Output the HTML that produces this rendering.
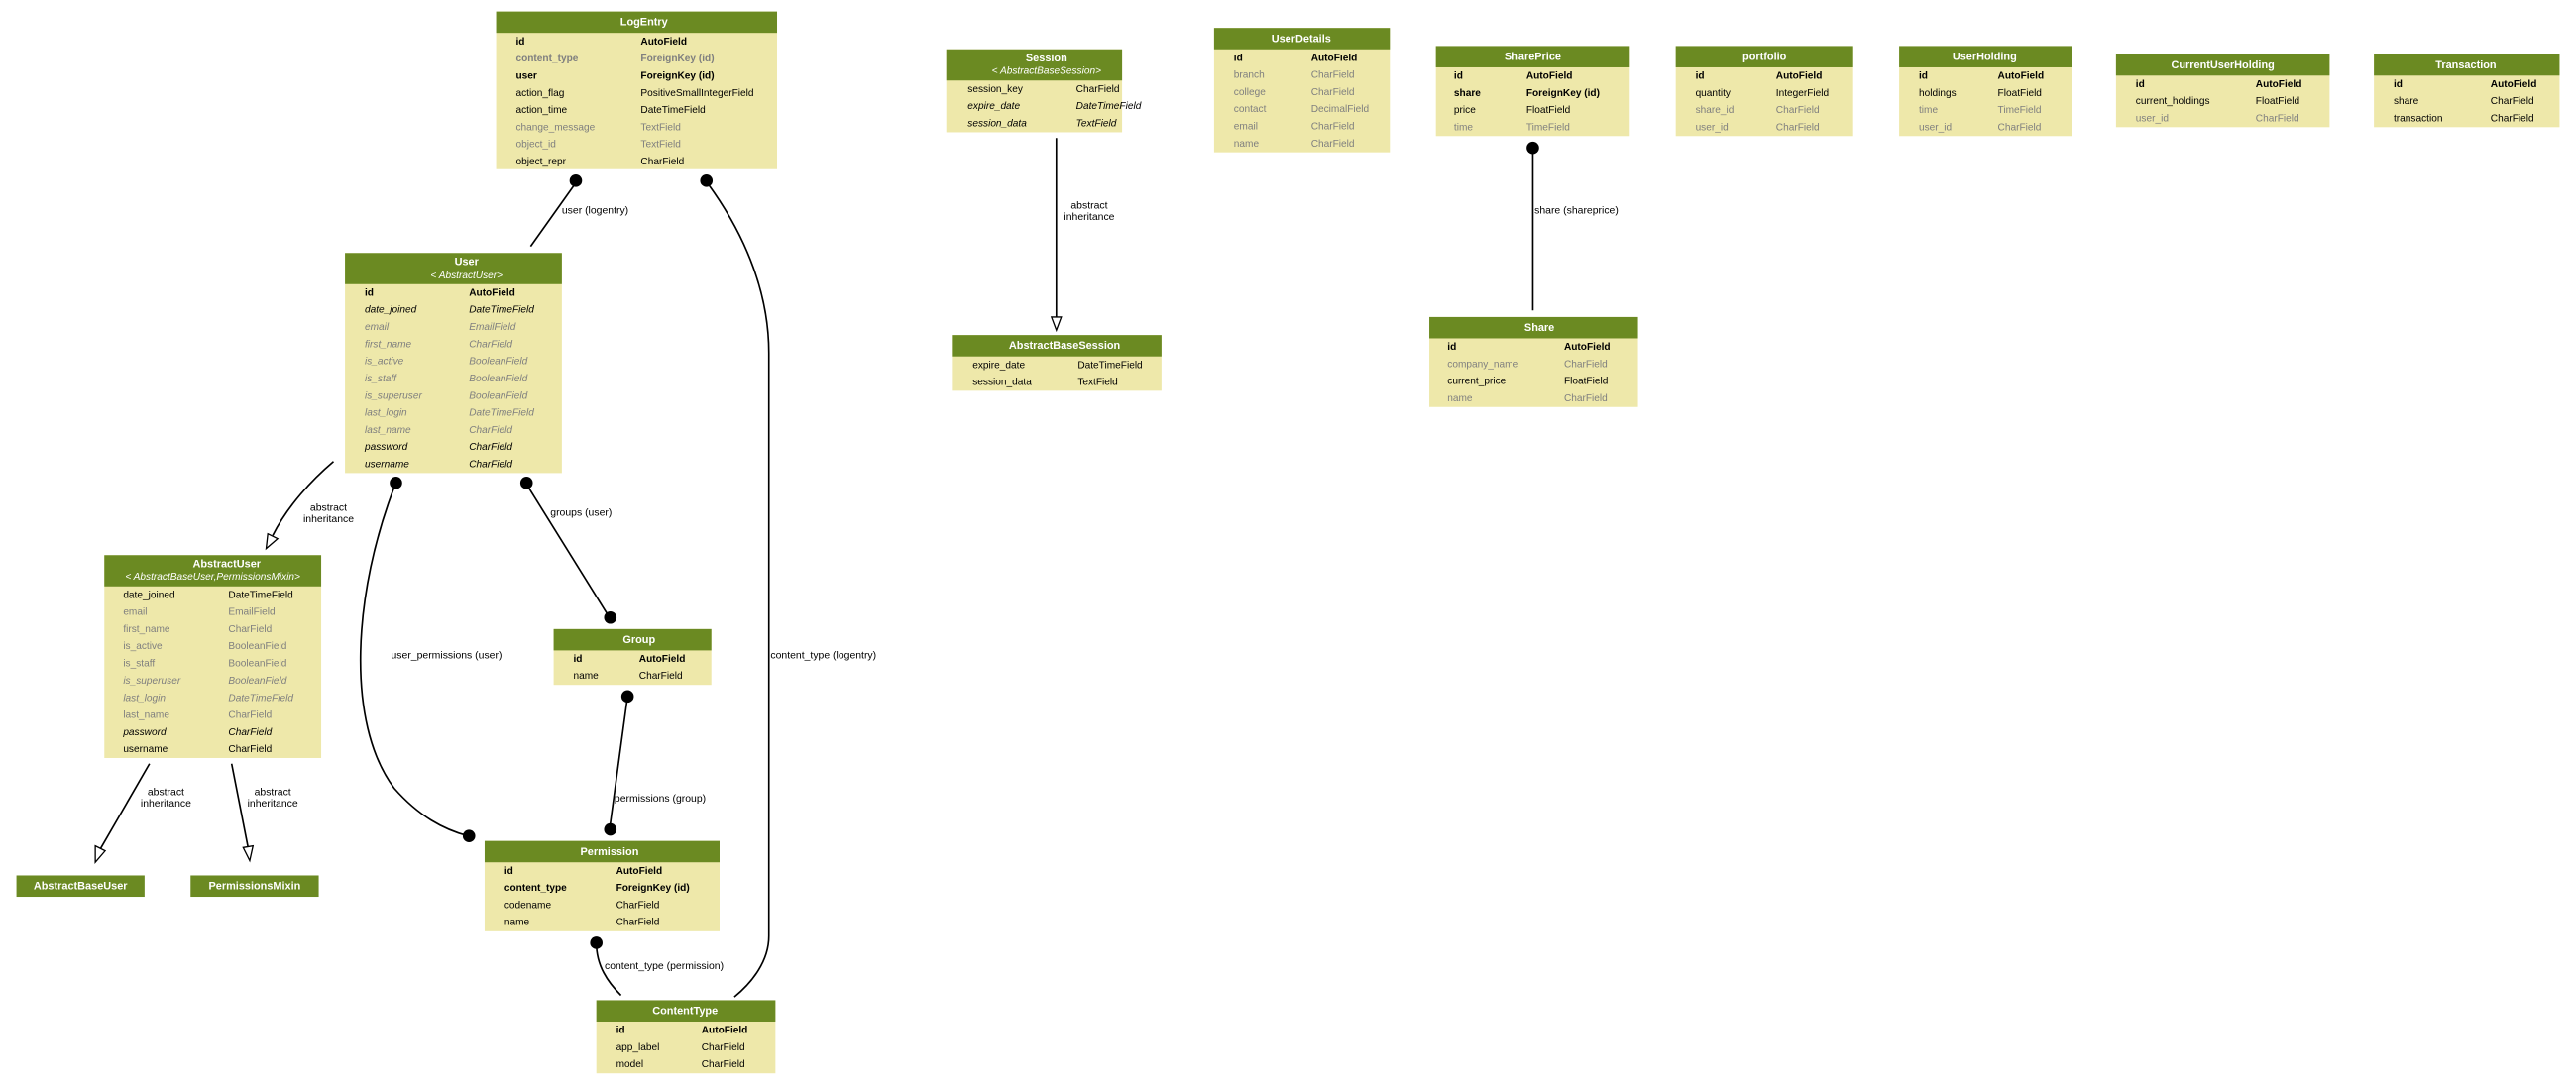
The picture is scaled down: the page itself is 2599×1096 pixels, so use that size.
<!DOCTYPE html>
<html><head><meta charset="utf-8"><style>
html,body{margin:0;padding:0;background:#fff;}
svg{display:block}
text{font-family:"Liberation Sans",sans-serif;font-size:6.1px;fill:#000}
.h{fill:#fff;font-weight:bold;font-size:6.6px}
.s{fill:#fff;font-style:italic;font-size:6.1px}
.b{font-weight:bold}
.g{fill:#7f7f7f}
.i{font-style:italic}
.gi{fill:#7f7f7f;font-style:italic}
.gb{fill:#7f7f7f;font-weight:bold}
.l{font-size:6.3px}
.hd{fill:#6b8a22}
.bd{fill:#eee8aa}
.e{fill:none;stroke:#000;stroke-width:1}
</style></head><body>
<svg width="2599" height="1096" viewBox="0 0 1568 661.2" xmlns="http://www.w3.org/2000/svg">
<!-- LogEntry -->
<rect class="bd" x="302" y="7" width="171" height="96"/><rect class="hd" x="302" y="7" width="171" height="13"/>
<text class="h" x="392" y="15.5" text-anchor="middle">LogEntry</text>
<text class="b" x="314" y="27">id</text><text class="b" x="390" y="27">AutoField</text>
<text class="gb" x="314" y="37.5">content_type</text><text class="gb" x="390" y="37.5">ForeignKey (id)</text>
<text class="b" x="314" y="48">user</text><text class="b" x="390" y="48">ForeignKey (id)</text>
<text x="314" y="58.4">action_flag</text><text x="390" y="58.4">PositiveSmallIntegerField</text>
<text x="314" y="68.8">action_time</text><text x="390" y="68.8">DateTimeField</text>
<text class="g" x="314" y="79.3">change_message</text><text class="g" x="390" y="79.3">TextField</text>
<text class="g" x="314" y="89.7">object_id</text><text class="g" x="390" y="89.7">TextField</text>
<text x="314" y="100.1">object_repr</text><text x="390" y="100.1">CharField</text>

<!-- User -->
<rect class="bd" x="210" y="154" width="132" height="134"/><rect class="hd" x="210" y="154" width="132" height="19"/>
<text class="h" x="284" y="161.5" text-anchor="middle">User</text>
<text class="s" x="284" y="169.5" text-anchor="middle">&lt; AbstractUser&gt;</text>
<text class="b" x="222" y="180">id</text><text class="b" x="285.5" y="180">AutoField</text>
<text class="i" x="222" y="190.4">date_joined</text><text class="i" x="285.5" y="190.4">DateTimeField</text>
<text class="gi" x="222" y="200.9">email</text><text class="gi" x="285.5" y="200.9">EmailField</text>
<text class="gi" x="222" y="211.3">first_name</text><text class="gi" x="285.5" y="211.3">CharField</text>
<text class="gi" x="222" y="221.8">is_active</text><text class="gi" x="285.5" y="221.8">BooleanField</text>
<text class="gi" x="222" y="232.2">is_staff</text><text class="gi" x="285.5" y="232.2">BooleanField</text>
<text class="gi" x="222" y="242.7">is_superuser</text><text class="gi" x="285.5" y="242.7">BooleanField</text>
<text class="gi" x="222" y="253.1">last_login</text><text class="gi" x="285.5" y="253.1">DateTimeField</text>
<text class="gi" x="222" y="263.6">last_name</text><text class="gi" x="285.5" y="263.6">CharField</text>
<text class="i" x="222" y="274">password</text><text class="i" x="285.5" y="274">CharField</text>
<text class="i" x="222" y="284.5">username</text><text class="i" x="285.5" y="284.5">CharField</text>

<!-- AbstractUser -->
<rect class="bd" x="63.5" y="338" width="132" height="123.5"/><rect class="hd" x="63.5" y="338" width="132" height="19"/>
<text class="h" x="138" y="345.5" text-anchor="middle">AbstractUser</text>
<text class="s" x="129.5" y="353" text-anchor="middle">&lt; AbstractBaseUser,PermissionsMixin&gt;</text>
<text x="75" y="364">date_joined</text><text x="139" y="364">DateTimeField</text>
<text class="g" x="75" y="374.4">email</text><text class="g" x="139" y="374.4">EmailField</text>
<text class="g" x="75" y="384.9">first_name</text><text class="g" x="139" y="384.9">CharField</text>
<text class="g" x="75" y="395.3">is_active</text><text class="g" x="139" y="395.3">BooleanField</text>
<text class="g" x="75" y="405.8">is_staff</text><text class="g" x="139" y="405.8">BooleanField</text>
<text class="gi" x="75" y="416.2">is_superuser</text><text class="gi" x="139" y="416.2">BooleanField</text>
<text class="gi" x="75" y="426.7">last_login</text><text class="gi" x="139" y="426.7">DateTimeField</text>
<text class="g" x="75" y="437.1">last_name</text><text class="g" x="139" y="437.1">CharField</text>
<text class="i" x="75" y="447.6">password</text><text class="i" x="139" y="447.6">CharField</text>
<text x="75" y="458">username</text><text x="139" y="458">CharField</text>

<!-- AbstractBaseUser / PermissionsMixin -->
<rect class="hd" x="10" y="533" width="78" height="13"/><text class="h" x="49" y="541.5" text-anchor="middle">AbstractBaseUser</text>
<rect class="hd" x="116" y="533" width="78" height="13"/><text class="h" x="155" y="541.5" text-anchor="middle">PermissionsMixin</text>

<!-- Group -->
<rect class="bd" x="337" y="383" width="96" height="34"/><rect class="hd" x="337" y="383" width="96" height="13"/>
<text class="h" x="389" y="391.5" text-anchor="middle">Group</text>
<text class="b" x="349" y="403">id</text><text class="b" x="389" y="403">AutoField</text>
<text x="349" y="413.4">name</text><text x="389" y="413.4">CharField</text>

<!-- Permission -->
<rect class="bd" x="295" y="512" width="143" height="55"/><rect class="hd" x="295" y="512" width="143" height="13"/>
<text class="h" x="371" y="520.5" text-anchor="middle">Permission</text>
<text class="b" x="307" y="532">id</text><text class="b" x="375" y="532">AutoField</text>
<text class="b" x="307" y="542.4">content_type</text><text class="b" x="375" y="542.4">ForeignKey (id)</text>
<text x="307" y="552.9">codename</text><text x="375" y="552.9">CharField</text>
<text x="307" y="563.3">name</text><text x="375" y="563.3">CharField</text>

<!-- ContentType -->
<rect class="bd" x="363" y="609" width="109" height="44.5"/><rect class="hd" x="363" y="609" width="109" height="13"/>
<text class="h" x="417" y="617.5" text-anchor="middle">ContentType</text>
<text class="b" x="375" y="629">id</text><text class="b" x="427" y="629">AutoField</text>
<text x="375" y="639.4">app_label</text><text x="427" y="639.4">CharField</text>
<text x="375" y="649.9">model</text><text x="427" y="649.9">CharField</text>

<!-- Session -->
<rect class="bd" x="576" y="30" width="107" height="50.5"/><rect class="hd" x="576" y="30" width="107" height="19"/>
<text class="h" x="637" y="37.5" text-anchor="middle">Session</text>
<text class="s" x="637" y="45" text-anchor="middle">&lt; AbstractBaseSession&gt;</text>
<text x="589" y="56">session_key</text><text x="655" y="56">CharField</text>
<text class="i" x="589" y="66.4">expire_date</text><text class="i" x="655" y="66.4">DateTimeField</text>
<text class="i" x="589" y="76.9">session_data</text><text class="i" x="655" y="76.9">TextField</text>

<!-- AbstractBaseSession -->
<rect class="bd" x="580" y="204" width="127" height="33.9"/><rect class="hd" x="580" y="204" width="127" height="13"/>
<text class="h" x="648" y="212.5" text-anchor="middle">AbstractBaseSession</text>
<text x="592" y="224">expire_date</text><text x="656" y="224">DateTimeField</text>
<text x="592" y="234.4">session_data</text><text x="656" y="234.4">TextField</text>

<!-- UserDetails -->
<rect class="bd" x="739" y="17" width="107" height="75.7"/><rect class="hd" x="739" y="17" width="107" height="13"/>
<text class="h" x="792" y="25.5" text-anchor="middle">UserDetails</text>
<text class="b" x="751" y="37">id</text><text class="b" x="798" y="37">AutoField</text>
<text class="g" x="751" y="47.4">branch</text><text class="g" x="798" y="47.4">CharField</text>
<text class="g" x="751" y="57.9">college</text><text class="g" x="798" y="57.9">CharField</text>
<text class="g" x="751" y="68.3">contact</text><text class="g" x="798" y="68.3">DecimalField</text>
<text class="g" x="751" y="78.8">email</text><text class="g" x="798" y="78.8">CharField</text>
<text class="g" x="751" y="89.2">name</text><text class="g" x="798" y="89.2">CharField</text>

<!-- SharePrice -->
<rect class="bd" x="874" y="28" width="118" height="54.8"/><rect class="hd" x="874" y="28" width="118" height="13"/>
<text class="h" x="933" y="36.5" text-anchor="middle">SharePrice</text>
<text class="b" x="885" y="48">id</text><text class="b" x="929" y="48">AutoField</text>
<text class="b" x="885" y="58.4">share</text><text class="b" x="929" y="58.4">ForeignKey (id)</text>
<text x="885" y="68.9">price</text><text x="929" y="68.9">FloatField</text>
<text class="g" x="885" y="79.3">time</text><text class="g" x="929" y="79.3">TimeField</text>

<!-- portfolio -->
<rect class="bd" x="1020" y="28" width="108" height="54.8"/><rect class="hd" x="1020" y="28" width="108" height="13"/>
<text class="h" x="1074" y="36.5" text-anchor="middle">portfolio</text>
<text class="b" x="1032" y="48">id</text><text class="b" x="1081" y="48">AutoField</text>
<text x="1032" y="58.4">quantity</text><text x="1081" y="58.4">IntegerField</text>
<text class="g" x="1032" y="68.9">share_id</text><text class="g" x="1081" y="68.9">CharField</text>
<text class="g" x="1032" y="79.3">user_id</text><text class="g" x="1081" y="79.3">CharField</text>

<!-- UserHolding -->
<rect class="bd" x="1156" y="28" width="105" height="54.8"/><rect class="hd" x="1156" y="28" width="105" height="13"/>
<text class="h" x="1208" y="36.5" text-anchor="middle">UserHolding</text>
<text class="b" x="1168" y="48">id</text><text class="b" x="1216" y="48">AutoField</text>
<text x="1168" y="58.4">holdings</text><text x="1216" y="58.4">FloatField</text>
<text class="g" x="1168" y="68.9">time</text><text class="g" x="1216" y="68.9">TimeField</text>
<text class="g" x="1168" y="79.3">user_id</text><text class="g" x="1216" y="79.3">CharField</text>

<!-- CurrentUserHolding -->
<rect class="bd" x="1288" y="33" width="130" height="44.4"/><rect class="hd" x="1288" y="33" width="130" height="13"/>
<text class="h" x="1353" y="41.5" text-anchor="middle">CurrentUserHolding</text>
<text class="b" x="1300" y="53">id</text><text class="b" x="1373" y="53">AutoField</text>
<text x="1300" y="63.4">current_holdings</text><text x="1373" y="63.4">FloatField</text>
<text class="g" x="1300" y="73.9">user_id</text><text class="g" x="1373" y="73.9">CharField</text>

<!-- Transaction -->
<rect class="bd" x="1445" y="33" width="113" height="44.4"/><rect class="hd" x="1445" y="33" width="113" height="13"/>
<text class="h" x="1501" y="41.5" text-anchor="middle">Transaction</text>
<text class="b" x="1457" y="53">id</text><text class="b" x="1516" y="53">AutoField</text>
<text x="1457" y="63.4">share</text><text x="1516" y="63.4">CharField</text>
<text x="1457" y="73.9">transaction</text><text x="1516" y="73.9">CharField</text>

<!-- Share -->
<rect class="bd" x="870" y="193" width="127" height="54.8"/><rect class="hd" x="870" y="193" width="127" height="13"/>
<text class="h" x="937" y="201.5" text-anchor="middle">Share</text>
<text class="b" x="881" y="213">id</text><text class="b" x="952" y="213">AutoField</text>
<text class="g" x="881" y="223.4">company_name</text><text class="g" x="952" y="223.4">CharField</text>
<text x="881" y="233.9">current_price</text><text x="952" y="233.9">FloatField</text>
<text class="g" x="881" y="244.3">name</text><text class="g" x="952" y="244.3">CharField</text>

<!-- Edges -->
<circle cx="350.5" cy="110" r="3.8"/><path class="e" d="M350,112 L323,150"/>
<text class="l" x="342" y="130">user (logentry)</text>

<circle cx="430" cy="110" r="3.8"/><path class="e" d="M431,112 C455,145 468,180 468,215 L468,570 C468,585 458,598 447,607"/>
<text class="l" x="469" y="401">content_type (logentry)</text>

<path class="e" d="M643,84 L643,193"/><path d="M640,193 L646,193 L643,201 Z" fill="#fff" stroke="#000" stroke-width="0.8"/>
<text class="l" x="663" y="127" text-anchor="middle">abstract</text><text class="l" x="663" y="134" text-anchor="middle">inheritance</text>

<circle cx="933" cy="90" r="3.8"/><path class="e" d="M933,92 L933,189"/>
<text class="l" x="934" y="130">share (shareprice)</text>

<path class="e" d="M203,281 C190,292 175,308 166,326"/><path d="M163,325 L169,328 L162,334 Z" fill="#fff" stroke="#000" stroke-width="0.8"/>
<text class="l" x="200" y="311" text-anchor="middle">abstract</text><text class="l" x="200" y="318" text-anchor="middle">inheritance</text>

<circle cx="320.5" cy="294" r="3.8"/><circle cx="371.5" cy="376" r="3.8"/><path class="e" d="M320,294 L371,376"/>
<text class="l" x="335" y="314">groups (user)</text>

<circle cx="241" cy="294" r="3.8"/><circle cx="285.5" cy="509" r="3.8"/>
<path class="e" d="M241,294 C215,360 210,440 240,480 C255,497 270,505 285,509"/>
<text class="l" x="238" y="401">user_permissions (user)</text>

<circle cx="382" cy="424" r="3.8"/><circle cx="371.5" cy="505" r="3.8"/><path class="e" d="M382,424 L371,505"/>
<text class="l" x="374" y="488">permissions (group)</text>

<circle cx="363" cy="574" r="3.8"/><path class="e" d="M363,574 C363,588 370,598 378,606"/>
<text class="l" x="368" y="590">content_type (permission)</text>

<path class="e" d="M91,465 L61,517"/><path d="M58,515 L64,518 L58,525 Z" fill="#fff" stroke="#000" stroke-width="0.8"/>
<text class="l" x="101" y="484" text-anchor="middle">abstract</text><text class="l" x="101" y="491" text-anchor="middle">inheritance</text>
<path class="e" d="M141,465 L151,516"/><path d="M148,516 L154,515 L152,524 Z" fill="#fff" stroke="#000" stroke-width="0.8"/>
<text class="l" x="166" y="484" text-anchor="middle">abstract</text><text class="l" x="166" y="491" text-anchor="middle">inheritance</text>
</svg>
</body></html>
